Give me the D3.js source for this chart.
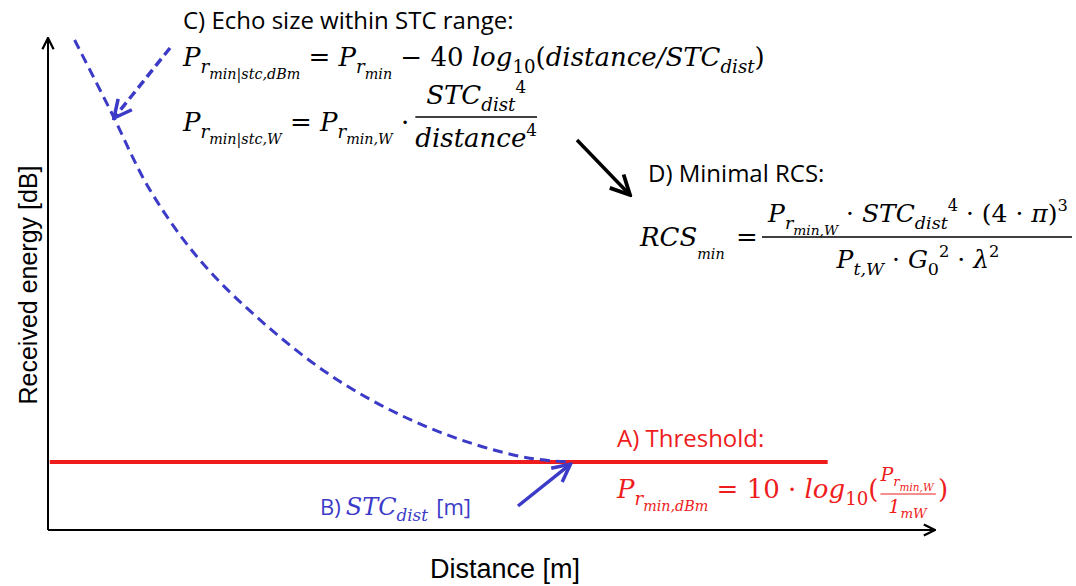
<!DOCTYPE html>
<html><head><meta charset="utf-8">
<script src="https://cdn.jsdelivr.net/npm/d3@7"></script>
<style>body{margin:0;background:#fff}</style>
</head><body>
<svg id="chart" width="1076" height="586"></svg>
<script>
// schematic echo curve (distance units 0..100, energy units 0..100)
var curveDist = [3.0, 7.0, 11.5, 17.1, 23.9, 31.8, 39.7, 47.6, 54.3, 58.9];
var curveEnergy = [99.6, 85.4, 69.1, 54.9, 42.7, 31.5, 23.4, 17.7, 14.6, 13.8];
var thresholdLevel = 13.8;
var thresholdRange = [0.2, 87.9];
var stcDist = 58.9;

var svg = d3.select("#chart");
var x = d3.scaleLinear().domain([0, 100]).range([48, 935]);
var y = d3.scaleLinear().domain([0, 100]).range([530, 38]);
var blue = "#3b3bc8", red = "#ee1c1c";
var mathFont = "DejaVu Serif";

var defs = svg.append("defs");
function marker(id, col, w) {
  defs.append("marker").attr("id", id).attr("viewBox", "0 0 10 10")
    .attr("refX", 9).attr("refY", 5).attr("markerWidth", w).attr("markerHeight", w)
    .attr("orient", "auto").attr("markerUnits", "userSpaceOnUse")
    .append("path").attr("d", "M1,1 L9,5 L1,9").attr("fill", "none")
    .attr("stroke", col).attr("stroke-width", 1.6);
}
marker("ax", "#000", 14);
marker("bl", blue, 22);
marker("bk", "#000", 24);

// axes
svg.append("line").attr("x1", x(0)).attr("y1", y(0)).attr("x2", x(100)).attr("y2", y(0))
  .attr("stroke", "#000").attr("stroke-width", 2).attr("marker-end", "url(#ax)");
svg.append("line").attr("x1", x(0)).attr("y1", y(0)).attr("x2", x(0)).attr("y2", y(100))
  .attr("stroke", "#000").attr("stroke-width", 2).attr("marker-end", "url(#ax)");

svg.append("text").attr("x", 505).attr("y", 578).attr("text-anchor", "middle")
  .attr("font-family", "Liberation Sans").attr("font-size", 27).text("Distance [m]");
svg.append("text").attr("transform", "translate(37,285) rotate(-90)").attr("text-anchor", "middle")
  .attr("font-family", "Liberation Sans").attr("font-size", 25).text("Received energy [dB]");

// threshold
svg.append("line").attr("x1", x(thresholdRange[0])).attr("x2", x(thresholdRange[1]))
  .attr("y1", y(thresholdLevel)).attr("y2", y(thresholdLevel))
  .attr("stroke", red).attr("stroke-width", 4);

// dashed curve
var pts = curveDist.map((d, i) => [x(d), y(curveEnergy[i])]);
svg.append("path").attr("d", d3.line().curve(d3.curveCatmullRom)(pts))
  .attr("fill", "none").attr("stroke", blue).attr("stroke-width", 3)
  .attr("stroke-dasharray", "10,6");

// arrows
svg.append("line").attr("x1", 170).attr("y1", 48).attr("x2", 114).attr("y2", 118)
  .attr("stroke", blue).attr("stroke-width", 3.5).attr("stroke-dasharray", "9,5")
  .attr("marker-end", "url(#bl)");
svg.append("line").attr("x1", 518).attr("y1", 506).attr("x2", x(stcDist)).attr("y2", y(thresholdLevel) + 2)
  .attr("stroke", blue).attr("stroke-width", 3.5).attr("marker-end", "url(#bl)");
svg.append("line").attr("x1", 577).attr("y1", 140).attr("x2", 630).attr("y2", 195)
  .attr("stroke", "#000").attr("stroke-width", 3.5).attr("marker-end", "url(#bk)");

// rich text: parts [text, level, upright] level 0 normal,1 sub,2 subsub,-1 sup
var off = {0: 0, 1: 7, 2: 13, "-1": -11};
var scl = {0: 1, 1: 0.7, 2: 0.55, "-1": 0.65};
function rich(x0, y0, parts, size, col, anchor) {
  var t = svg.append("text").attr("x", x0).attr("y", y0)
    .attr("font-family", mathFont).attr("font-style", "italic")
    .attr("font-size", size).attr("fill", col || "#000").attr("text-anchor", anchor || "start");
  var cur = 0;
  parts.forEach(function(p) {
    var lv = p[1] || 0, o = off[lv] * size / 26;
    t.append("tspan").attr("dy", o - cur).attr("font-size", size * scl[lv])
      .attr("font-style", p[2] ? "normal" : null).text(p[0]);
    cur = o;
  });
  return t;
}
function endX(t) { var b = t.node().getBBox(); return b.x + b.width; }
function label(x0, y0, s, col) {
  return svg.append("text").attr("x", x0).attr("y", y0).attr("font-family", "Open Sans")
    .attr("font-size", 24).attr("fill", col || "#000").text(s);
}
var fs = 26;

// C
label(183, 29, "C) Echo size within STC range:");
rich(183, 66, [["P"], ["r", 1], ["min|stc,dBm", 2], [" = ", 0, 1], ["P"], ["r", 1], ["min", 2],
  [" − 40 ", 0, 1], ["log"], ["10", 1, 1], ["(", 0, 1], ["distance/STC"], ["dist", 1], [")", 0, 1]], fs);
var l2 = rich(183, 131, [["P"], ["r", 1], ["min|stc,W", 2], [" = ", 0, 1], ["P"], ["r", 1], ["min,W", 2], [" ·", 0, 1]], fs);
var f0 = endX(l2) + 6;
var num = rich(0, 104, [["STC"], ["dist", 1], ["4", -1, 1]], fs);
var den = rich(0, 147, [["distance"], ["4", -1, 1]], fs);
var fw = Math.max(num.node().getBBox().width, den.node().getBBox().width);
num.attr("x", f0 + (fw - num.node().getBBox().width) / 2);
den.attr("x", f0 + (fw - den.node().getBBox().width) / 2);
svg.append("line").attr("x1", f0).attr("x2", f0 + fw).attr("y1", 117).attr("y2", 117).attr("stroke", "#000").attr("stroke-width", 1.5);

// D
label(648, 182, "D) Minimal RCS:");
rich(640, 246, [["RCS"], ["min", 2]], fs);
rich(736, 246, [["=", 0, 1]], fs);
rich(918, 222, [["P"], ["r", 1], ["min,W", 2], [" · ", 0, 1], ["STC"], ["dist", 1], ["4", -1, 1], [" · (4 · ", 0, 1], ["π"], [")", 0, 1], ["3", -1, 1]], 25, null, "middle");
svg.append("line").attr("x1", 762).attr("x2", 1072).attr("y1", 237).attr("y2", 237).attr("stroke", "#000").attr("stroke-width", 1.5);
rich(918, 268, [["P"], ["t,W", 1], [" · ", 0, 1], ["G"], ["0", 1, 1], ["2", -1, 1], [" · ", 0, 1], ["λ"], ["2", -1, 1]], 25, null, "middle");

// A
label(617, 447, "A) Threshold:", red);
var la = rich(617, 498, [["P"], ["r", 1], ["min,dBm", 2], [" = 10 · ", 0, 1], ["log"], ["10", 1, 1], ["(", 0, 1]], fs, red);
var a0 = endX(la) + 2;
var an = rich(0, 481, [["P"], ["r", 1], ["min,W", 2]], 19, red);
var ad = rich(0, 513, [["1"], ["mW", 1]], 19, red);
var aw = an.node().getBBox().width;
an.attr("x", a0);
ad.attr("x", a0 + (aw - ad.node().getBBox().width) / 2);
svg.append("line").attr("x1", a0).attr("x2", a0 + aw).attr("y1", 494).attr("y2", 494).attr("stroke", red).attr("stroke-width", 1);
rich(a0 + aw + 2, 498, [[")", 0, 1]], fs, red);

// B
var b1 = svg.append("text").attr("x", 320).attr("y", 515).attr("font-family", "Open Sans").attr("font-size", 22)
  .attr("fill", blue).text("B) ");
var b2 = rich(endX(b1) + 5, 515, [["STC"], ["dist", 1]], 24, blue);
svg.append("text").attr("x", endX(b2) + 8).attr("y", 515).attr("font-family", "Open Sans").attr("font-size", 22)
  .attr("fill", blue).text("[m]");
</script>
</body></html>
